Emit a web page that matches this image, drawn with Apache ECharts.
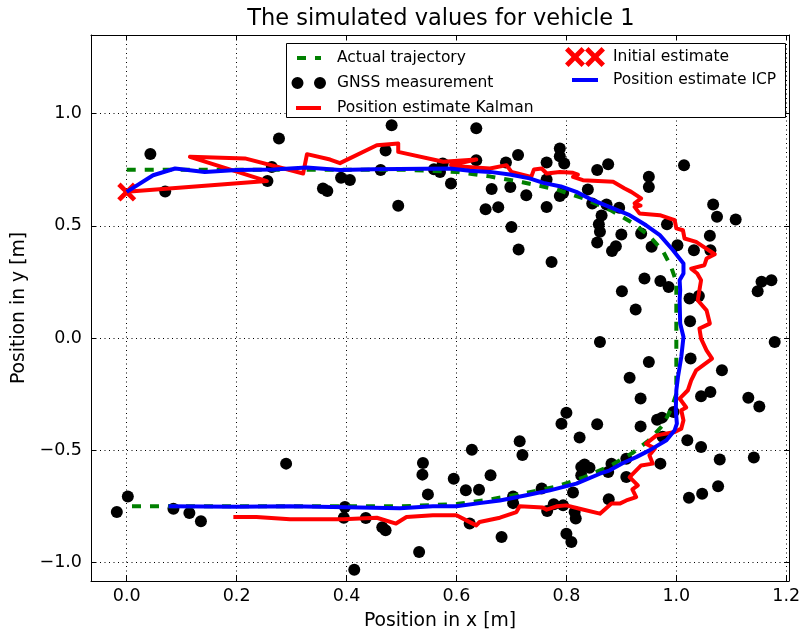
<!DOCTYPE html>
<html>
<head>
<meta charset="utf-8">
<script src="https://cdn.jsdelivr.net/npm/echarts@6/dist/echarts.min.js"></script>
<style>
  html, body { margin: 0; padding: 0; background: #fff; }
  #chart { width: 801px; height: 630px; }
</style>
</head>
<body>
<div id="chart"></div>
<script>
// reference path of the vehicle
var actualTrajectory = [
  [0.0, 0.75], [0.5, 0.75], [0.6, 0.74], [0.66, 0.72], [0.72, 0.694], [0.78, 0.663],
  [0.83, 0.623], [0.88, 0.57], [0.92, 0.513], [0.95, 0.456], [0.975, 0.39], [0.99, 0.32],
  [1.0, 0.25], [1.0, -0.25], [0.99, -0.32], [0.975, -0.39], [0.95, -0.456], [0.92, -0.513],
  [0.88, -0.57], [0.83, -0.623], [0.78, -0.663], [0.72, -0.694], [0.66, -0.72], [0.6, -0.74],
  [0.5, -0.75], [0.0, -0.75]
];

// noisy GNSS fixes
var gnssMeasurements = [
  [0.043, 0.82], [0.070, 0.653], [0.256, 0.699], [0.264, 0.762], [0.277, 0.889], [0.357, 0.666],
  [0.365, 0.655], [0.390, 0.714], [0.406, 0.704], [0.482, 0.948], [0.471, 0.835], [0.462, 0.748],
  [0.494, 0.589], [0.559, 0.752], [0.570, 0.740], [0.575, 0.777], [0.590, 0.688], [0.636, 0.934],
  [0.636, 0.792], [0.664, 0.664], [0.653, 0.574], [0.676, 0.583], [0.690, 0.782], [0.712, 0.815],
  [0.698, 0.673], [0.727, 0.636], [0.700, 0.494], [0.713, 0.394], [0.764, 0.782], [0.764, 0.706],
  [0.764, 0.584], [0.773, 0.339], [0.788, 0.844], [0.788, 0.810], [0.796, 0.777], [0.788, 0.633],
  [0.794, 0.646], [0.856, 0.748], [0.876, 0.774], [0.950, 0.718], [0.950, 0.673], [1.014, 0.770],
  [0.839, 0.662], [0.847, 0.599], [0.873, 0.595], [0.896, 0.580], [0.864, 0.546], [0.859, 0.507],
  [0.861, 0.473], [0.856, 0.425], [0.900, 0.461], [0.890, 0.409], [0.883, 0.387], [0.936, 0.465],
  [0.955, 0.406], [0.983, 0.507], [1.002, 0.413], [1.032, 0.391], [1.061, 0.455], [1.062, 0.391],
  [1.067, 0.595], [1.074, 0.540], [1.108, 0.528], [0.942, 0.265], [0.971, 0.254], [0.901, 0.208],
  [0.986, 0.227], [1.155, 0.250], [1.173, 0.257], [1.148, 0.208], [1.024, 0.176], [1.041, 0.187],
  [0.926, 0.127], [1.025, 0.074], [0.861, -0.018], [1.179, -0.018], [0.950, -0.107], [1.026, -0.092],
  [0.915, -0.177], [1.083, -0.144], [0.935, -0.270], [1.045, -0.260], [1.062, -0.241], [1.131, -0.266],
  [1.151, -0.305], [0.800, -0.333], [0.791, -0.382], [0.856, -0.385], [0.935, -0.394], [0.965, -0.364],
  [0.974, -0.355], [0.995, -0.330], [0.824, -0.444], [1.020, -0.456], [1.045, -0.486], [0.975, -0.440],
  [1.079, -0.542], [1.141, -0.533], [0.971, -0.560], [0.882, -0.560], [0.833, -0.564], [0.909, -0.538],
  [1.023, -0.712], [1.047, -0.694], [1.076, -0.661], [0.715, -0.460], [0.720, -0.522], [0.628, -0.498],
  [0.539, -0.557], [0.538, -0.609], [0.548, -0.697], [0.595, -0.627], [0.617, -0.679], [0.641, -0.676],
  [0.662, -0.612], [0.703, -0.706], [0.703, -0.736], [0.755, -0.671], [0.765, -0.771], [0.777, -0.741],
  [0.794, -0.746], [0.812, -0.689], [0.815, -0.776], [0.817, -0.805], [0.800, -0.872], [0.809, -0.909],
  [0.682, -0.887], [0.624, -0.827], [0.532, -0.954], [0.827, -0.612], [0.827, -0.575], [0.842, -0.578],
  [0.876, -0.597], [0.909, -0.620], [0.877, -0.719], [-0.018, -0.776], [0.002, -0.706], [0.085, -0.761],
  [0.114, -0.780], [0.135, -0.817], [0.290, -0.560], [0.397, -0.753], [0.395, -0.801], [0.435, -0.802],
  [0.465, -0.843], [0.471, -0.857], [0.414, -1.033]
];

// kalman filter output
var kalmanEstimate = [
  [0.0, 0.651], [0.255, 0.699], [0.115, 0.807], [0.215, 0.800], [0.321, 0.733], [0.328, 0.819],
  [0.370, 0.795], [0.388, 0.779], [0.455, 0.859], [0.494, 0.867], [0.494, 0.829], [0.576, 0.785],
  [0.636, 0.795], [0.590, 0.770], [0.600, 0.765], [0.661, 0.755], [0.691, 0.770], [0.700, 0.740],
  [0.736, 0.718], [0.741, 0.751], [0.755, 0.755], [0.764, 0.733], [0.788, 0.740], [0.812, 0.736],
  [0.821, 0.728], [0.812, 0.718], [0.830, 0.703], [0.885, 0.696], [0.906, 0.666], [0.918, 0.651],
  [0.936, 0.622], [0.924, 0.600], [0.935, 0.590], [0.924, 0.584], [0.933, 0.555], [0.970, 0.547],
  [0.997, 0.525], [1.000, 0.488], [1.012, 0.480], [1.015, 0.443], [1.036, 0.428], [1.070, 0.373],
  [1.055, 0.354], [1.051, 0.324], [1.027, 0.309], [1.038, 0.287], [1.045, 0.257], [1.042, 0.213],
  [1.039, 0.168], [1.055, 0.123], [1.061, 0.064], [1.042, 0.042], [1.045, -0.003], [1.055, -0.055],
  [1.065, -0.092], [1.036, -0.144], [1.027, -0.189], [1.021, -0.233], [1.006, -0.270], [1.018, -0.310],
  [1.009, -0.322], [1.013, -0.367], [1.009, -0.404], [0.997, -0.419], [0.964, -0.434], [0.945, -0.471],
  [0.961, -0.493], [0.951, -0.523], [0.957, -0.560], [0.936, -0.568], [0.915, -0.620], [0.930, -0.657],
  [0.920, -0.675], [0.927, -0.709], [0.909, -0.724], [0.897, -0.738], [0.882, -0.738], [0.861, -0.783],
  [0.824, -0.761], [0.800, -0.746], [0.782, -0.750], [0.764, -0.765], [0.757, -0.756], [0.715, -0.750],
  [0.709, -0.776], [0.679, -0.801], [0.642, -0.820], [0.636, -0.835], [0.618, -0.813], [0.600, -0.790],
  [0.557, -0.790], [0.509, -0.798], [0.490, -0.827], [0.455, -0.801], [0.394, -0.808], [0.297, -0.808],
  [0.236, -0.798], [0.194, -0.798]
];

var initialEstimate = [[0.0, 0.65]];

// ICP output
var icpEstimate = [
  [0.0, 0.651], [0.048, 0.725], [0.088, 0.755], [0.142, 0.740], [0.200, 0.748], [0.267, 0.751],
  [0.327, 0.760], [0.388, 0.748], [0.450, 0.752], [0.588, 0.755], [0.624, 0.745], [0.661, 0.740],
  [0.697, 0.728], [0.733, 0.711], [0.758, 0.691], [0.790, 0.675], [0.818, 0.651], [0.848, 0.614],
  [0.885, 0.577], [0.915, 0.547], [0.945, 0.502], [0.970, 0.458], [0.994, 0.391], [1.013, 0.332],
  [1.013, 0.287], [1.006, 0.257], [1.007, 0.213], [1.006, 0.168], [1.007, 0.064], [1.013, 0.004],
  [1.009, -0.085], [1.003, -0.174], [1.000, -0.233], [0.999, -0.322], [1.001, -0.382], [0.997, -0.411],
  [0.982, -0.456], [0.951, -0.501], [0.927, -0.531], [0.903, -0.557], [0.879, -0.590], [0.861, -0.605],
  [0.818, -0.649], [0.770, -0.679], [0.727, -0.701], [0.679, -0.724], [0.642, -0.736], [0.600, -0.750],
  [0.557, -0.750], [0.497, -0.759], [0.400, -0.754], [0.297, -0.750], [0.200, -0.752], [0.076, -0.750]
];

var xRange = [-0.065, 1.205];
var yRange = [-1.083, 1.35];

var FONT = 'DejaVu Sans';
var crossPath = 'path://M0,3.5L3.5,0L10,6.5L16.5,0L20,3.5L13.5,10L20,16.5L16.5,20L10,13.5L3.5,20L0,16.5L6.5,10Z';

// legend icons (tiny corner specks keep the icon box size)
var box1 = 'M0,0h0.01v0.01h-0.01Z M35.99,13.99h0.01v0.01h-0.01Z ';
var box2 = 'M0,0h0.01v0.01h-0.01Z M39.99,19.99h0.01v0.01h-0.01Z ';
var dashIcon = 'path://' + box1 + 'M7,5H16V9H7Z M25,5H31V9H25Z';
var dotsIcon = 'path://' + box1 + 'M1.5,7A6,6 0 1,0 13.5,7A6,6 0 1,0 1.5,7Z M24,7A6,6 0 1,0 36,7A6,6 0 1,0 24,7Z';
var redIcon = 'path://' + box1 + 'M6,5H31V9H6Z';
var crossesIcon = 'path://' + box2 +
  'M0,3.5L3.5,0L10,6.5L16.5,0L20,3.5L13.5,10L20,16.5L16.5,20L10,13.5L3.5,20L0,16.5L6.5,10Z ' +
  'M20,3.5L23.5,0L30,6.5L36.5,0L40,3.5L33.5,10L40,16.5L36.5,20L30,13.5L23.5,20L20,16.5L26.5,10Z';
var blueIcon = 'path://' + box2 + 'M7,8H33V12H7Z';

function tickLabel(step) {
  return function (v) {
    var k = v / step;
    if (Math.abs(k - Math.round(k)) > 1e-6) return '';
    return (Math.round(k) * step).toFixed(1).replace('-', '\u2212');
  };
}

var chart = echarts.init(document.getElementById('chart'), null, { renderer: 'canvas' });

var axisLineStyle = { show: true, onZero: false, lineStyle: { color: '#000', width: 1 } };
var tickStyle = { show: true, inside: true, length: 5, lineStyle: { color: '#000', width: 1 } };
var gridLine = { show: true, lineStyle: { color: '#000', width: 1, type: [1, 3.5] } };

var option = {
  animation: false,
  textStyle: { fontFamily: FONT },
  title: {
    text: 'The simulated values for vehicle 1',
    left: 441,
    top: 8,
    textAlign: 'center',
    padding: 0,
    textStyle: { fontSize: 22.5, fontWeight: 'normal', color: '#000', fontFamily: FONT }
  },
  grid: { left: 91, right: 12, top: 35, bottom: 49, containLabel: false, outerBoundsMode: 'none' },
  xAxis: [{
    type: 'value',
    min: xRange[0],
    max: xRange[1],
    splitNumber: 6,
    minInterval: 0.2,
    maxInterval: 0.2,
    position: 'bottom',
    axisLine: axisLineStyle,
    axisTick: tickStyle,
    axisLabel: { margin: 6, color: '#000', fontSize: 17.5, fontFamily: FONT, formatter: tickLabel(0.2) },
    splitLine: gridLine,
    name: 'Position in x [m]',
    nameLocation: 'middle',
    nameGap: 31,
    nameTextStyle: { fontSize: 18.8, color: '#000', fontFamily: FONT }
  }, {
    type: 'value',
    min: xRange[0],
    max: xRange[1],
    splitNumber: 6,
    minInterval: 0.2,
    maxInterval: 0.2,
    position: 'top',
    axisLine: axisLineStyle,
    axisTick: tickStyle,
    axisLabel: { show: false },
    splitLine: { show: false }
  }],
  yAxis: [{
    type: 'value',
    min: yRange[0],
    max: yRange[1],
    splitNumber: 5,
    minInterval: 0.5,
    maxInterval: 0.5,
    position: 'left',
    axisLine: axisLineStyle,
    axisTick: tickStyle,
    axisLabel: { margin: 9, color: '#000', fontSize: 17.5, fontFamily: FONT, formatter: tickLabel(0.5) },
    splitLine: gridLine,
    name: 'Position in y [m]',
    nameLocation: 'middle',
    nameGap: 61,
    nameTextStyle: { fontSize: 18.8, color: '#000', fontFamily: FONT }
  }, {
    type: 'value',
    min: yRange[0],
    max: yRange[1],
    splitNumber: 5,
    minInterval: 0.5,
    maxInterval: 0.5,
    position: 'right',
    axisLine: axisLineStyle,
    axisTick: tickStyle,
    axisLabel: { show: false },
    splitLine: { show: false }
  }],
  legend: [{
    orient: 'vertical',
    left: 290,
    top: 50,
    padding: 0,
    itemWidth: 36,
    itemHeight: 14,
    itemGap: 9,
    selectedMode: false,
    z: 20,
    itemStyle: { borderWidth: 0 },
    textStyle: { fontSize: 15.5, lineHeight: 14, color: '#000', fontFamily: FONT, padding: [0, 0, 0, 6] },
    data: [
      { name: 'Actual trajectory', icon: dashIcon, itemStyle: { color: '#008000', borderWidth: 0 } },
      { name: 'GNSS measurement', icon: dotsIcon, itemStyle: { color: '#000', borderWidth: 0 } },
      { name: 'Position estimate Kalman', icon: redIcon, itemStyle: { color: '#ff0000', borderWidth: 0 } }
    ]
  }, {
    orient: 'vertical',
    left: 565,
    top: 47,
    padding: 0,
    itemWidth: 40,
    itemHeight: 20,
    itemGap: 3,
    selectedMode: false,
    z: 20,
    itemStyle: { borderWidth: 0 },
    textStyle: { fontSize: 15.5, lineHeight: 14, color: '#000', fontFamily: FONT, padding: [0, 0, 0, 3] },
    data: [
      { name: 'Initial estimate', icon: crossesIcon, itemStyle: { color: '#ff0000', borderWidth: 0 } },
      { name: 'Position estimate ICP', icon: blueIcon, itemStyle: { color: '#0000ff', borderWidth: 0 } }
    ]
  }],
  graphic: {
    elements: [{
      type: 'rect',
      z: 10,
      silent: true,
      shape: { x: 286.5, y: 43.5, width: 499, height: 74 },
      style: { fill: '#fff', stroke: '#000', lineWidth: 1 }
    }]
  },
  series: [{
    name: 'Actual trajectory',
    type: 'line',
    data: actualTrajectory,
    color: '#008000',
    symbol: 'none',
    showSymbol: false,
    lineStyle: { color: '#008000', width: 4, type: [9, 9] }
  }, {
    name: 'GNSS measurement',
    type: 'scatter',
    data: gnssMeasurements,
    color: '#000',
    symbol: 'circle',
    symbolSize: 12,
    itemStyle: { color: '#000', opacity: 1 }
  }, {
    name: 'Position estimate Kalman',
    type: 'line',
    data: kalmanEstimate,
    color: '#ff0000',
    symbol: 'none',
    showSymbol: false,
    lineStyle: { color: '#ff0000', width: 4, join: 'round' }
  }, {
    name: 'Initial estimate',
    type: 'scatter',
    data: initialEstimate,
    color: '#ff0000',
    symbol: crossPath,
    symbolSize: 19,
    itemStyle: { color: '#ff0000', opacity: 1 }
  }, {
    name: 'Position estimate ICP',
    type: 'line',
    data: icpEstimate,
    color: '#0000ff',
    symbol: 'none',
    showSymbol: false,
    lineStyle: { color: '#0000ff', width: 4, join: 'round' }
  }]
};

chart.setOption(option);
</script>
</body>
</html>
